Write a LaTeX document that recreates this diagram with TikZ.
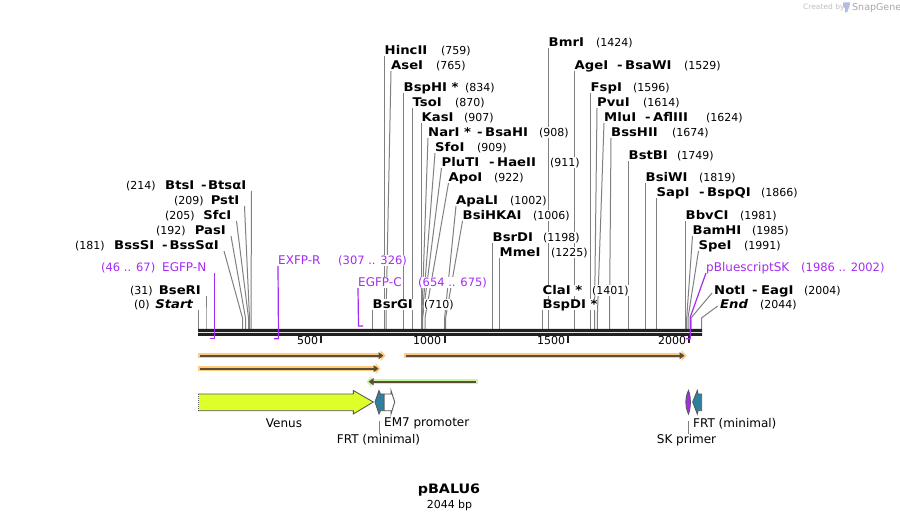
\documentclass[tikz,border=0pt]{standalone}
\usepackage{fontspec}
\setmainfont{DejaVu Sans}[BoldFeatures={FakeStretch=1.1},BoldItalicFeatures={FakeStretch=1.1}]
\usepackage{tikz}
\usetikzlibrary{arrows.meta,backgrounds}
\definecolor{primerpurple}{HTML}{A52BF2}
\definecolor{orangeband}{HTML}{FFCB80}
\definecolor{greenband}{HTML}{C6F79C}
\definecolor{banddark}{HTML}{5A4E38}
\definecolor{venusfill}{HTML}{DFFF2B}
\definecolor{frtfill}{HTML}{2F7F9E}
\newcommand{\bandline}{banddark}
\tikzset{
  site line/.style={draw=black!50,line width=1pt},
  site name/.style={font=\fontsize{12}{12}\selectfont\bfseries,fill=white,anchor=south west,yshift=-6pt,
    inner xsep=0pt,inner ysep=0pt,text height=9.5pt,text depth=1.5pt},
  site left/.style={site name,anchor=south east,inner xsep=5pt},
  site num/.style={font=\fontsize{11}{11}\selectfont,fill=white,anchor=south west,yshift=-6pt,
    inner xsep=0pt,inner ysep=0pt,text height=9.5pt,text depth=1.5pt},
  primer line/.style={draw=primerpurple,line width=1.2pt},
  primer name/.style={site num,font=\fontsize{12}{12}\selectfont,text=primerpurple},
  primer num/.style={site num,font=\fontsize{11.5}{11.5}\selectfont,text=primerpurple},
  scale num/.style={font=\fontsize{11}{11}\selectfont,inner sep=0pt,anchor=mid west},
  feature name/.style={font=\fontsize{12}{12}\selectfont,inner sep=0pt},
  feature/.style={draw=black!65,line width=.9pt},
  leader/.style={draw=black!50,line width=.7pt}
}
\begin{document}
\begin{tikzpicture}[x=1pt,y=-1pt,line join=miter]
  \useasboundingbox (0,0) rectangle (900,521);

  % labels on the right of their line
  \foreach \lab/\x/\y/\t in {BmrI/548.5/42/BmrI,HincII/384.5/50/HincII,AseI/391/65/AseI,AgeI/574.5/65/AgeI,
      BspHI/403.5/87/BspHI *,FspI/590.5/87/FspI,TsoI/412.5/102/TsoI,PvuI/597/102/PvuI,
      KasI/421.5/117/KasI,MluI/604/117/MluI,NarI/428/132/NarI *,BssHII/611/132/BssHII,
      SfoI/435/147/SfoI,BstBI/628.5/155/BstBI,PluTI/441.5/162/PluTI,ApoI/448.5/177/ApoI,
      BsiWI/645.5/177/BsiWI,ApaLI/456/200/ApaLI,SapI/656.5/192/SapI,BsiHKAI/462.5/215/BsiHKAI,
      BbvCI/685.5/215/BbvCI,BamHI/692.5/230/BamHI,BsrDI/492.5/237/BsrDI,SpeI/698.5/245/SpeI,
      MmeI/499.5/252/MmeI,ClaI/542.5/290/ClaI *,BsrGI/372.5/304/BsrGI,NotI/714/290/NotI,
      End/720/304/{\textit{End}}}
    {\node[site name] (\lab) at (\x,\y) {\t};}
  \node[site name] (BspDI) at (542.5,304) {BspDI *};

  % labels on the left of their line
  \foreach \lab/\x/\y/\t in {BtsaI/251.5/185/BtsαI,PstI/244.5/200/PstI,SfcI/236.5/215/SfcI,
      PasI/231/230/PasI,BssSaI/224/245/BssSαI,BseRI/206/290/BseRI,Start/198.5/304/{\textit{Start}}}
    {\node[site left] (\lab) at (\x,\y) {\t};}

  % second names and dashes
  \foreach \lab/\x/\y/\t in {BtsI/165/185/BtsI,dBts/201/185/-,BssSI/114/245/BssSI,dBss/162/245/-,
      dAge/617/65/-,BsaWI/625/65/BsaWI,dMlu/645/117/-,AflIII/653/117/AflIII,
      dNar/477/132/-,BsaHI/485/132/BsaHI,dPlu/489/162/-,HaeII/497/162/HaeII,
      dSap/699/192/-,BspQI/707/192/BspQI,dNot/752/290/-,EagI/761/290/EagI}
    {\node[site name] (\lab) at (\x,\y) {\t};}

  % site numbers
  \foreach \lab/\x/\y/\t in {n214/126/185/214,n209/174/200/209,n205/165/215/205,n192/156/230/192,
      n181/75/245/181,n31/130/290/31,n0/134/304/0,n759/441/50/759,n765/436/65/765,n834/465/87/834,
      n870/455/102/870,n907/464/117/907,n908/539/132/908,n909/477/147/909,n911/550/162/911,
      n922/494/177/922,n1002/510/200/1002,n1006/533/215/1006,n1198/543/237/1198,n1225/551/252/1225,
      n710/424/304/710,n1401/592/290/1401,n1424/596/42/1424,n1529/684/65/1529,n1596/633/87/1596,
      n1614/643/102/1614,n1624/706/117/1624,n1674/672/132/1674,n1749/677/155/1749,n1819/699/177/1819,
      n1866/761/192/1866,n1981/740/215/1981,n1985/752/230/1985,n1991/744/245/1991,n2004/804/290/2004,
      n2044/760/304/2044}
    {\node[site num] (\lab) at (\x,\y) {(\t)};}

  % primers
  \node[primer name] (EGFPN) at (162,267) {EGFP-N};
  \node[primer num] (nEGFPN) at (101,267) {(46 .. 67)};
  \node[primer name] (EXFPR) at (278,260) {EXFP-R};
  \node[primer num] (nEXFPR) at (338,260) {(307 .. 326)};
  \node[primer name] (EGFPC) at (358,282) {EGFP-C};
  \node[primer num] (nEGFPC) at (418,282) {(654 .. 675)};
  \node[primer name] (pBS) at (706,267) {pBluescriptSK};
  \node[primer num] (npBS) at (801,267) {(1986 .. 2002)};

  \coordinate (NotItop) at (712,293);
  \coordinate (Endtop) at (717.7,306);
  \coordinate (EGFPNtop) at (214.3,273);

  \begin{scope}[on background layer]
    % lines up from the backbone
    \foreach \bx/\lab in {206/BseRI.south east,198.5/Start.south east,
        242.5/BssSaI.south east,245.5/PasI.south east,248.5/SfcI.south east,
        249.5/PstI.south east,251/BtsaI.south east,
        372.5/BsrGI.south west,384.5/HincII.south west,386/AseI.south west,403.5/BspHI.south west,
        412.5/TsoI.south west,421.5/KasI.south west,421.8/NarI.south west,422.2/SfoI.south west,
        422.6/PluTI.south west,425/ApoI.south west,444.6/ApaLI.south west,445.6/BsiHKAI.south west,
        492.5/BsrDI.south west,499.5/MmeI.south west,542.5/BspDI.south west,548.5/BmrI.south west,
        574.5/AgeI.south west,590.5/FspI.south west,594.5/PvuI.south west,597.3/MluI.south west,
        609.5/BssHII.south west,628.5/BstBI.south west,645.5/BsiWI.south west,656.5/SapI.south west,
        685.5/BbvCI.south west,686.7/BamHI.south west,688/SpeI.south west,691/NotItop,701.5/Endtop}
      {\draw[site line] (\bx,329) -- (\bx,318) -- (\lab);}

    % backbone
    \fill[black!87] (198,329) rectangle (702,332) (198,333) rectangle (702,336);
    \foreach \tx in {321,444.5,567.5,689}
      {\draw[black!87,line width=2pt] (\tx,336) -- (\tx,343);}

    % primer brackets
    \draw[primer line] (210,338.7) -- (214.3,338.7) -- (EGFPNtop);
    \draw[primer line] (274,338.7) -- (278.5,338.7) -- (EXFPR.south west);
    \draw[primer line] (363,326) -- (358.5,326) -- (EGFPC.south west);
    \draw[primer line] (686,338.7) -- (690.3,338.7) -- (690.3,317) -- (pBS.south west);
  \end{scope}

  % scale numbers
  \node[scale num] (t500) at (297,342) {500};
  \node[scale num] (t1000) at (413,342) {1000};
  \node[scale num] (t1500) at (537,342) {1500};
  \node[scale num] (t2000) at (658,342) {2000};

  % primer bands
  \foreach \xa/\xb/\y in {198/385.5/355.7,198/380.5/368.7,403.5/686.5/355.7}
    {\draw[orangeband,line width=5.3pt,-{Triangle[length=5pt,width=11pt]}] (\xa,\y) -- (\xb,\y);
     \draw[\bandline,line width=2pt,-{Triangle[length=5pt,width=7pt]}] (\xa+2,\y) -- (\xb-2,\y);}
  \draw[greenband,line width=5.3pt,-{Triangle[length=5pt,width=11pt]}] (478,381.7) -- (366.5,381.7);
  \draw[\bandline,line width=2pt,-{Triangle[length=5pt,width=7pt]}] (476,381.7) -- (368.5,381.7);

  % features
  \filldraw[feature,fill=venusfill] (198.5,394) -- (353.3,394) -- (353.3,390.5) -- (373.3,402)
    -- (353.3,414) -- (353.3,410.7) -- (198.5,410.7) -- cycle;
  \draw[white,line width=.8pt,dash pattern=on 1pt off 1pt] (198.5,394.5) -- (198.5,410.5);
  \filldraw[feature,fill=white] (384,394) -- (391,394) -- (391,390.5) -- (394.7,402)
    -- (391,414) -- (391,410.7) -- (384,410.7) -- cycle;
  \filldraw[feature,fill=frtfill] (375,402) -- (379,390.5) -- (380.5,394) -- (384,394)
    -- (384,410.7) -- (380.5,410.7) -- (379,414) -- cycle;
  \filldraw[feature,fill=primerpurple] (688.5,390.5) .. controls (685,397) and (685,407) .. (688.5,414)
    .. controls (691,407) and (691,397) .. (688.5,390.5) -- cycle;
  \filldraw[feature,fill=frtfill] (692.7,402) -- (697.3,390.5) -- (698,394) -- (701.7,394)
    -- (701.7,410.7) -- (698,410.7) -- (697.3,414) -- cycle;

  \node[feature name] (Venus) at (284,423.5) {Venus};
  \node[feature name,anchor=west] (EM7) at (384,423.5) {EM7 promoter};
  \node[feature name] (FRTa) at (378.5,440) {FRT (minimal)};
  \node[feature name,anchor=west] (FRTb) at (693,423.5) {FRT (minimal)};
  \node[feature name] (SK) at (686.5,440) {SK primer};
  \coordinate (frttop) at (379.3,420.5);
  \coordinate (sktop) at (688.3,420.5);
  \draw[leader] (frttop) -- (frttop |- FRTa.north);
  \draw[leader] (sktop) -- (sktop |- SK.north);

  % title
  \node[font=\fontsize{13}{13}\selectfont\bfseries,inner sep=0pt] (title) at (449,490.5) {pBALU6};
  \node[font=\fontsize{11}{11}\selectfont,inner sep=0pt] (size) at (449.5,505) {2044 bp};

  % watermark
  \node[font=\fontsize{7.5}{7.5}\selectfont,text=black!25,inner sep=0pt,anchor=west] (created) at (803,7.5) {Created by};
  \fill[cyan!35!blue!30] (843,2.5) -- (850,2.5) .. controls (850,7) and (848,9) .. (847,12.5) -- (845,12.5) -- (845,8) -- (843,7) -- cycle;
  \node[font=\fontsize{9.5}{9.5}\selectfont,text=black!35,inner sep=0pt,anchor=west] (snap) at (852,7.5) {SnapGene};
\end{tikzpicture}
\end{document}
